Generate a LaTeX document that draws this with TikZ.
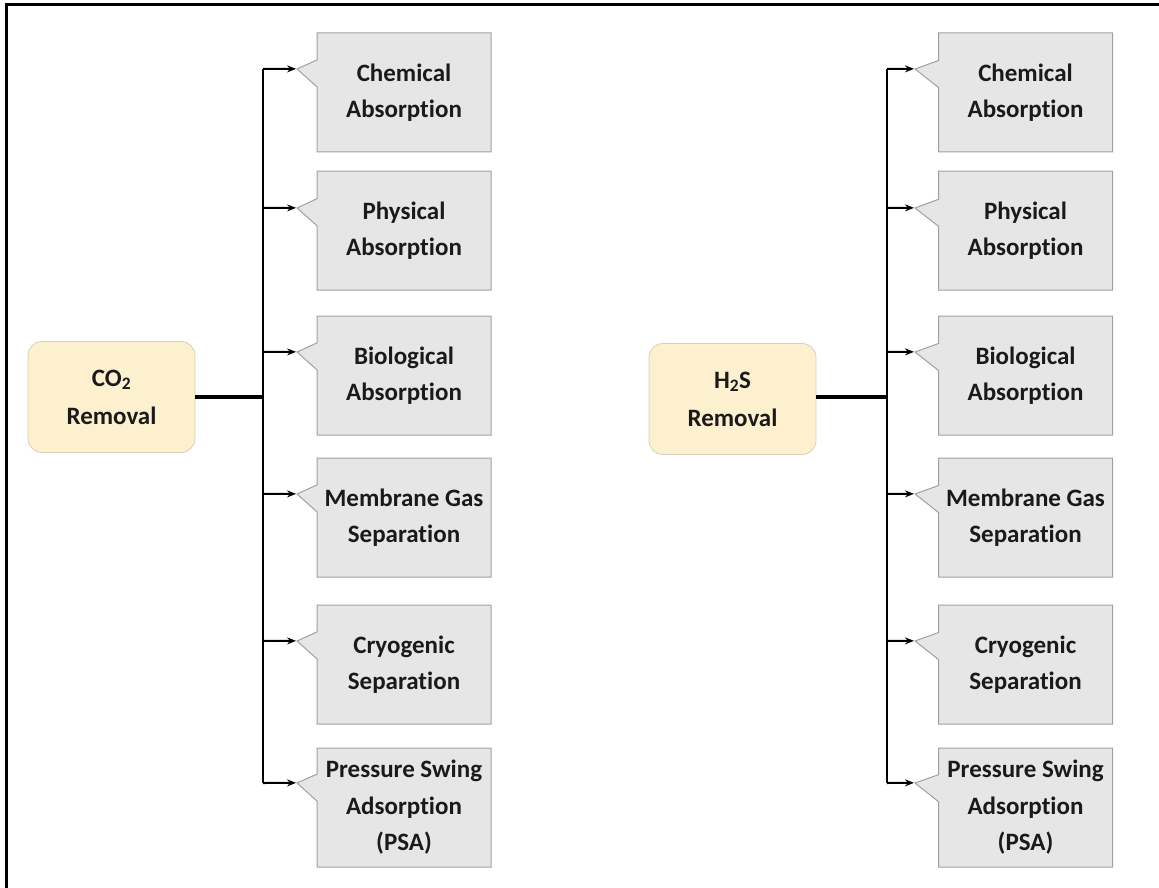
\documentclass[tikz,border=0pt]{standalone}
\usepackage{fontspec}
\setmainfont[Ligatures=NoCommon]{Carlito}
\usetikzlibrary{shapes.callouts,arrows.meta}
\newcommand\nolti{t\kern0pt i}
\definecolor{rootfill}{HTML}{FDF0CF}
\definecolor{rootdraw}{HTML}{D9CFB8}
\definecolor{boxfill}{HTML}{E6E6E6}
\definecolor{boxdraw}{HTML}{A0A0A0}
\definecolor{txt}{HTML}{1A1A1A}
\begin{document}
\begin{tikzpicture}[x=1pt,y=-1pt,
  rootbox/.style={draw=rootdraw,fill=rootfill,rounded corners=14pt,line width=0.8pt,
    minimum width=167pt,minimum height=111pt,align=center,text=txt,
    font=\fontsize{25}{38}\selectfont\bfseries,inner sep=0pt},
  childbox/.style={rectangle callout,draw=boxdraw,fill=boxfill,line width=1pt,
    minimum width=174pt,minimum height=119pt,callout pointer width=27pt,
    align=center,text=txt,font=\fontsize{25}{36.5}\selectfont\bfseries,inner sep=0pt},
  trunk/.style={line width=2.4pt,black},
  feed/.style={line width=4pt,black},
  branch/.style={line width=2pt,black,-{Stealth[length=9pt,width=7pt]}}
]
\useasboundingbox (0,0) rectangle (1159,888);
% frame
\draw[line width=3pt] (6,888) -- (6,5) -- (1159,5);

% ---------- left group ----------
\node[rootbox] (RL) at (111.5,397) {CO\textsubscript{2}\\Removal};
\node[childbox,callout absolute pointer={(297,69)}]  (L1) at (404,92.5)  {Chemical\\Absorp\nolti{}on};
\node[childbox,callout absolute pointer={(297,208)}] (L2) at (404,230.5) {Physical\\Absorp\nolti{}on};
\node[childbox,callout absolute pointer={(297,352)}] (L3) at (404,375.5) {Biological\\Absorp\nolti{}on};
\node[childbox,callout absolute pointer={(297,494)}] (L4) at (404,517.5) {Membrane Gas\\Separa\nolti{}on};
\node[childbox,callout absolute pointer={(297,641)}] (L5) at (404,664.5) {Cryogenic\\Separa\nolti{}on};
\node[childbox,callout absolute pointer={(297,783)}] (L6) at (404,807.5) {Pressure Swing\\Adsorp\nolti{}on\\(PSA)};
\coordinate (tL0) at (263,397);
\coordinate (tL1) at (263,69);
\coordinate (tL2) at (263,208);
\coordinate (tL3) at (263,352);
\coordinate (tL4) at (263,494);
\coordinate (tL5) at (263,641);
\coordinate (tL6) at (263,783);
\draw[trunk] (tL1) -- (tL6);
\draw[feed] (RL.east) -- (tL0);
\foreach \i in {1,...,6} \draw[branch] (tL\i) -- (L\i.pointer);

% ---------- right group ----------
\node[rootbox] (RR) at (732.5,399) {H\textsubscript{2}S\\Removal};
\node[childbox,callout absolute pointer={(915,69)}]  (R1) at (1025.5,92.5)  {Chemical\\Absorp\nolti{}on};
\node[childbox,callout absolute pointer={(915,208)}] (R2) at (1025.5,230.5) {Physical\\Absorp\nolti{}on};
\node[childbox,callout absolute pointer={(915,352)}] (R3) at (1025.5,375.5) {Biological\\Absorp\nolti{}on};
\node[childbox,callout absolute pointer={(915,494)}] (R4) at (1025.5,517.5) {Membrane Gas\\Separa\nolti{}on};
\node[childbox,callout absolute pointer={(915,641)}] (R5) at (1025.5,664.5) {Cryogenic\\Separa\nolti{}on};
\node[childbox,callout absolute pointer={(915,783)}] (R6) at (1025.5,807.5) {Pressure Swing\\Adsorp\nolti{}on\\(PSA)};
\coordinate (tR0) at (887,397);
\coordinate (tR1) at (887,69);
\coordinate (tR2) at (887,208);
\coordinate (tR3) at (887,352);
\coordinate (tR4) at (887,494);
\coordinate (tR5) at (887,641);
\coordinate (tR6) at (887,783);
\draw[trunk] (tR1) -- (tR6);
\draw[feed] (RR.east |- tR0) -- (tR0);
\foreach \i in {1,...,6} \draw[branch] (tR\i) -- (R\i.pointer);
\end{tikzpicture}
\end{document}
